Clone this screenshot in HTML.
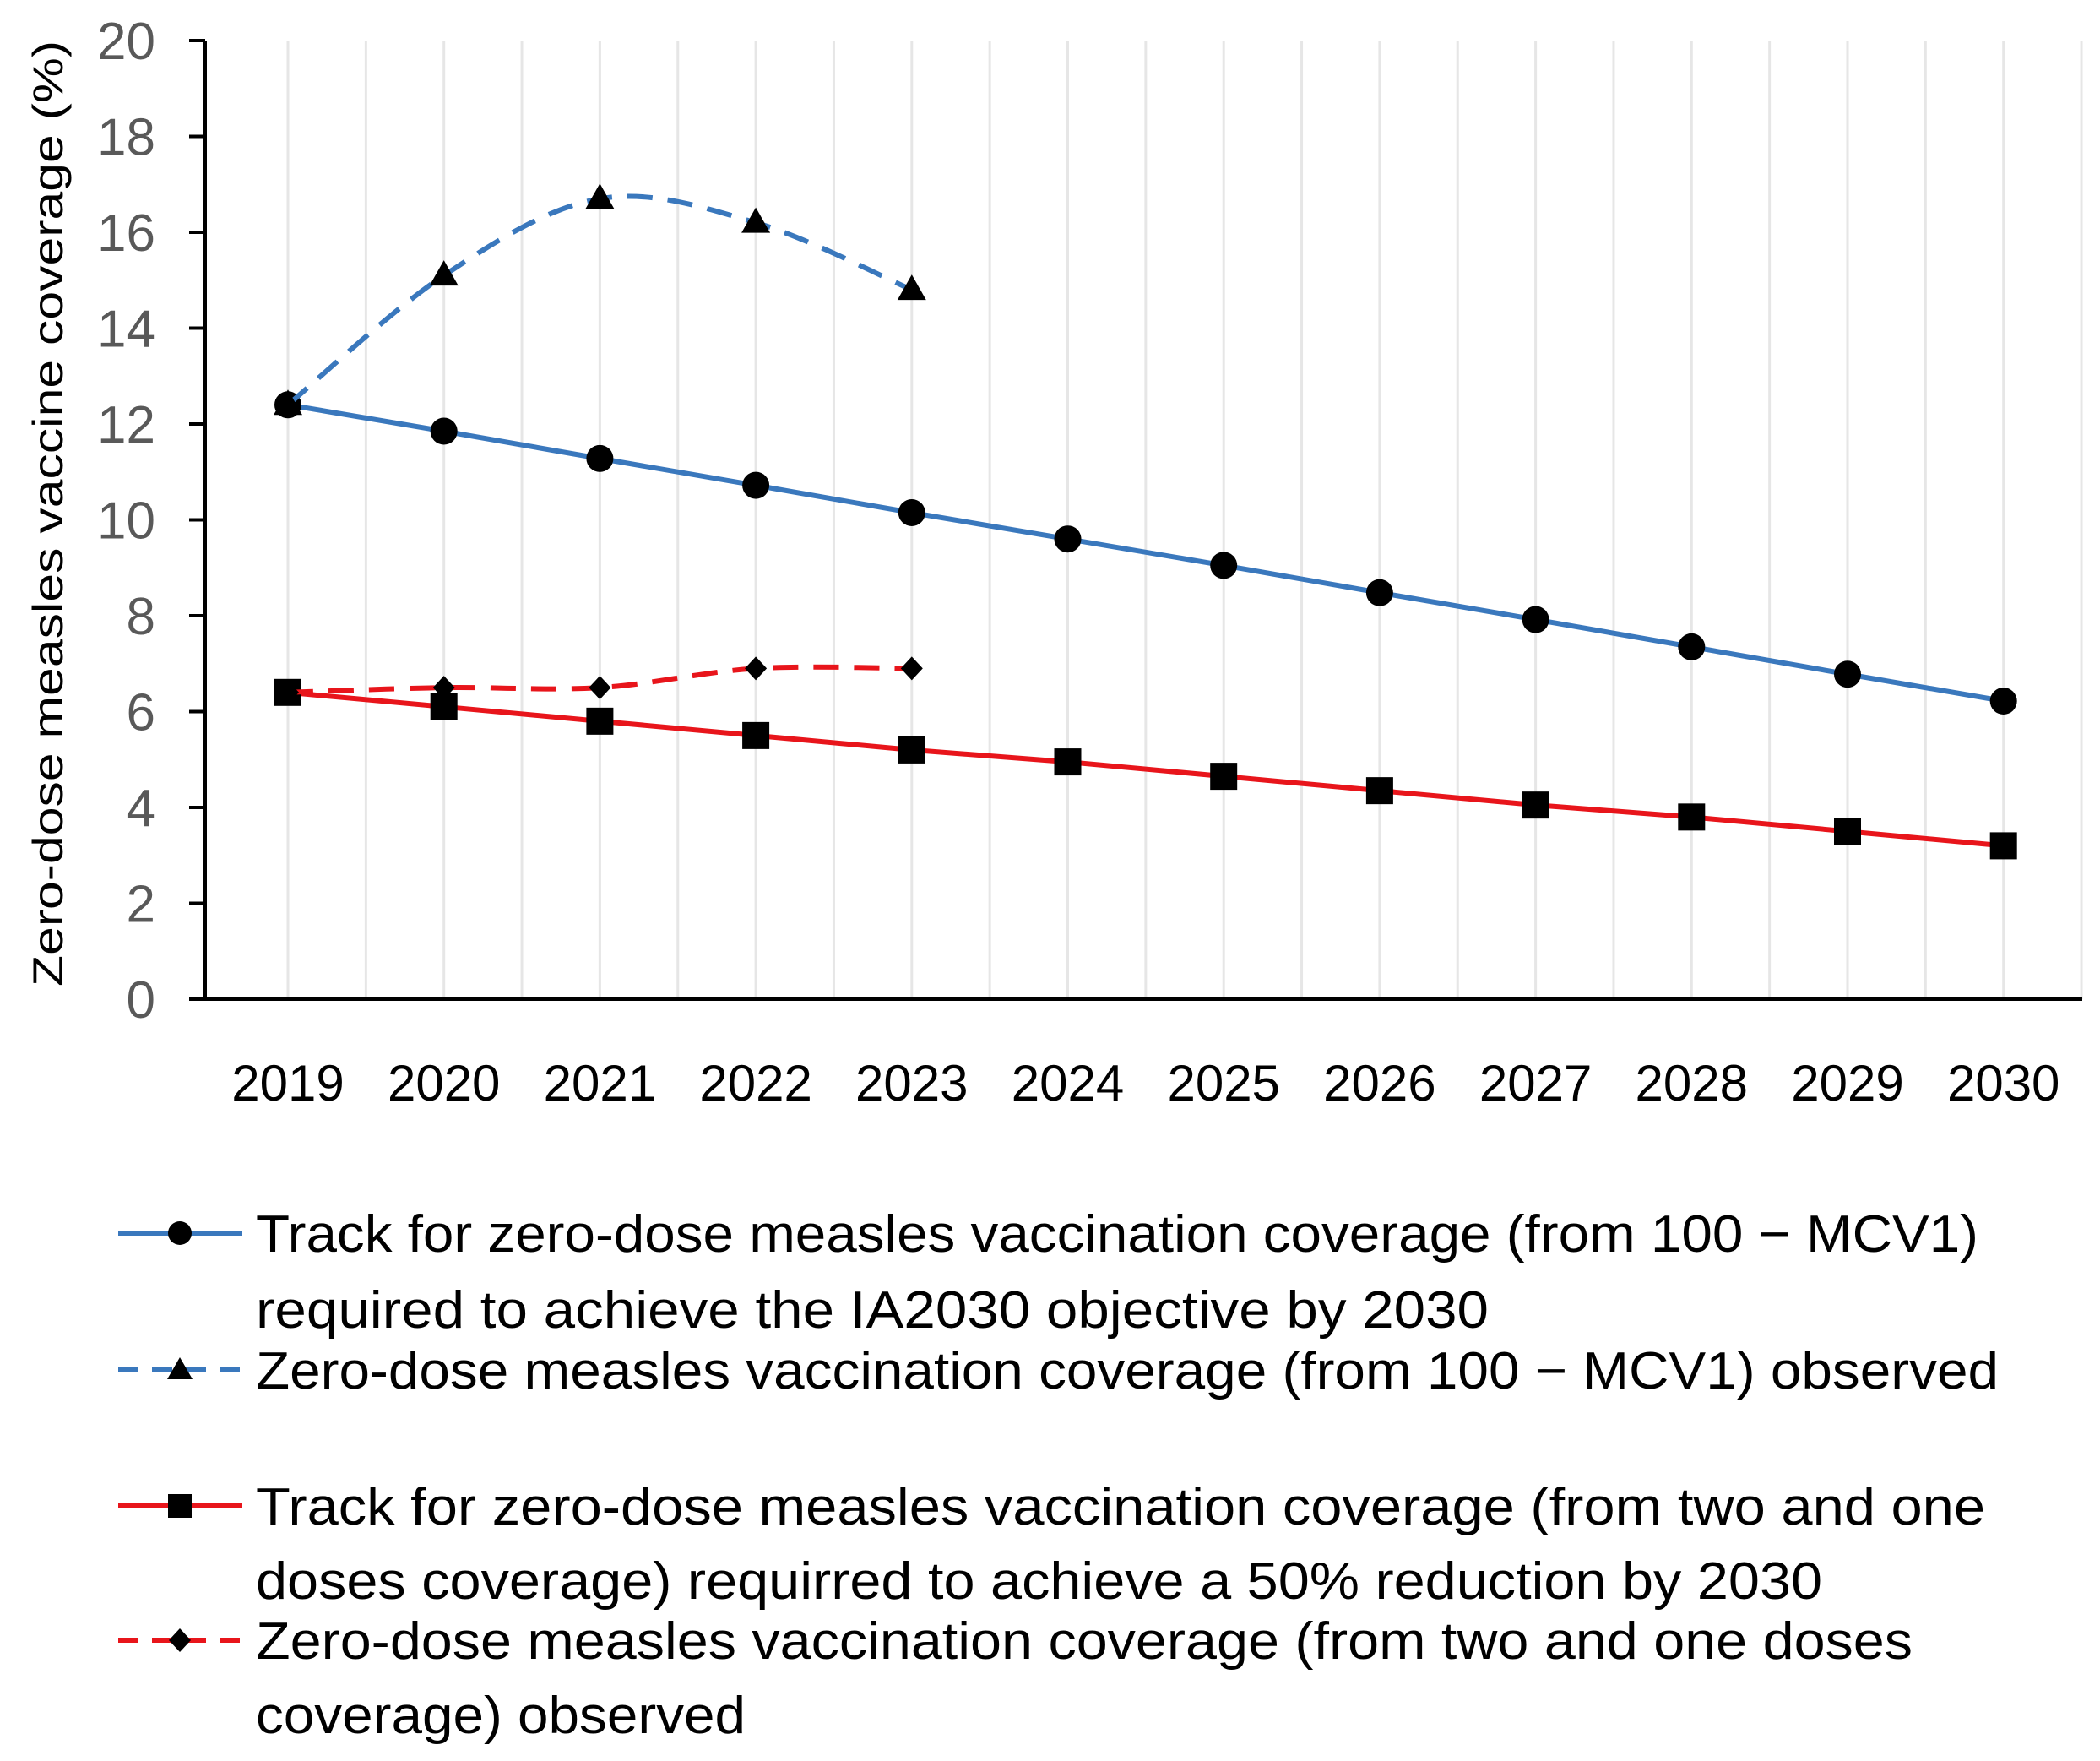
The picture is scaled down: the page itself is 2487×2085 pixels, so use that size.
<!DOCTYPE html>
<html><head><meta charset="utf-8"><style>
html,body{margin:0;padding:0;background:#fff;}
svg{display:block;font-family:"Liberation Sans",sans-serif;}
</style></head><body>
<svg id="chart" width="2487" height="2085" viewBox="0 0 2487 2085">
<g id="grid"></g>
<g id="axes"></g>
<g id="series"></g>
<text transform="translate(74,608) rotate(-90)" text-anchor="middle" font-size="50" fill="#000" textLength="1120" lengthAdjust="spacingAndGlyphs">Zero-dose measles vaccine coverage (%)</text>
<g font-size="62" fill="#000" transform="translate(0,-8)">
  <g>
    <line x1="140" y1="1468" x2="287" y2="1468" stroke="#3a78bd" stroke-width="6"/>
    <circle cx="213" cy="1468" r="14" fill="#000"/>
    <text x="303" y="1490" textLength="2040" lengthAdjust="spacingAndGlyphs">Track for zero-dose measles vaccination coverage (from 100 − MCV1)</text>
    <text x="303" y="1580" textLength="1460" lengthAdjust="spacingAndGlyphs">required to achieve the IA2030 objective by 2030</text>
  </g>
  <g>
    <line x1="140" y1="1630" x2="287" y2="1630" stroke="#3a78bd" stroke-width="6" stroke-dasharray="24,16"/>
    <polygon points="213,1615 228,1641 198,1641" fill="#000"/>
    <text x="303" y="1652" textLength="2064" lengthAdjust="spacingAndGlyphs">Zero-dose measles vaccination coverage (from 100 − MCV1) observed</text>
  </g>
  <g>
    <line x1="140" y1="1791" x2="287" y2="1791" stroke="#e8151b" stroke-width="6"/>
    <rect x="199" y="1777" width="28" height="28" fill="#000"/>
    <text x="303" y="1813" textLength="2048" lengthAdjust="spacingAndGlyphs">Track for zero-dose measles vaccination coverage (from two and one</text>
    <text x="303" y="1901" textLength="1855" lengthAdjust="spacingAndGlyphs">doses coverage) requirred to achieve a 50% reduction by 2030</text>
  </g>
  <g>
    <line x1="140" y1="1950" x2="287" y2="1950" stroke="#e8151b" stroke-width="6" stroke-dasharray="24,16"/>
    <polygon points="213,1936 226,1950 213,1964 200,1950" fill="#000"/>
    <text x="303" y="1972" textLength="1962" lengthAdjust="spacingAndGlyphs">Zero-dose measles vaccination coverage (from two and one doses</text>
    <text x="303" y="2060" textLength="580" lengthAdjust="spacingAndGlyphs">coverage) observed</text>
  </g>
</g>
</svg>
<script>
const years = ["2019","2020","2021","2022","2023","2024","2025","2026","2027","2028","2029","2030"];
const yTicks = [0,2,4,6,8,10,12,14,16,18,20];
const blueTrack = [12.4,11.85,11.28,10.72,10.15,9.6,9.05,8.48,7.92,7.35,6.78,6.22];
const blueObserved = [12.4,15.1,16.7,16.2,14.8];
const redTrack = [6.4,6.1,5.8,5.5,5.2,4.95,4.65,4.35,4.05,3.8,3.5,3.2];
const redObserved = [6.4,6.5,6.5,6.9,6.9];

const NS="http://www.w3.org/2000/svg";
const X0=341, DX=184.7, Y0=1183, Y20=48;
const xs=i=>X0+i*DX;
const ys=v=>Y0-(v/20)*(Y0-Y20);
function mk(tag,attrs,parent){const e=document.createElementNS(NS,tag);for(const k in attrs)e.setAttribute(k,attrs[k]);parent.appendChild(e);return e;}
const grid=document.getElementById('grid'), axes=document.getElementById('axes'), series=document.getElementById('series');
for(let i=0;i<years.length*2;i++){
  const x=X0+i*DX/2;
  if(x>2470) break;
  const l=mk('line',{x1:x,y1:Y20,x2:x,y2:Y0,stroke:'#e6e6e6','stroke-width':3},grid);
  
  
}
const ya=mk('line',{x1:243,y1:Y20,x2:243,y2:Y0+2,stroke:'#000','stroke-width':4},axes);


const xa=mk('line',{x1:224,y1:Y0,x2:2466,y2:Y0,stroke:'#000','stroke-width':4},axes);


yTicks.forEach(v=>{
  const t=mk('line',{x1:224,y1:ys(v),x2:243,y2:ys(v),stroke:'#000','stroke-width':4},axes);
  
  
  const tx=mk('text',{x:184,y:ys(v)+22,'text-anchor':'end','font-size':62,fill:'#595959'},axes);
  tx.textContent=v;
  
  
});
years.forEach((y,i)=>{
  const tx=mk('text',{x:xs(i),y:1303,'text-anchor':'middle','font-size':60,fill:'#000'},axes);
  tx.textContent=y;
  
  
});
function smoothPath(pts){
  let d=`M${pts[0][0]},${pts[0][1]}`;
  for(let i=0;i<pts.length-1;i++){
    const p0=pts[i-1]||pts[i],p1=pts[i],p2=pts[i+1],p3=pts[i+2]||p2;
    const c1=[p1[0]+(p2[0]-p0[0])/6,p1[1]+(p2[1]-p0[1])/6];
    const c2=[p2[0]-(p3[0]-p1[0])/6,p2[1]-(p3[1]-p1[1])/6];
    d+=` C${c1[0]},${c1[1]} ${c2[0]},${c2[1]} ${p2[0]},${p2[1]}`;
  }
  return d;
}
function drawSeries(vals,color,dash,smooth,marker,name){
  const pts=vals.map((v,i)=>[xs(i),ys(v)]);
  const d=smooth?smoothPath(pts):'M'+pts.map(p=>p.join(',')).join(' L');
  const p=mk('path',{d:d,fill:'none',stroke:color,'stroke-width':6,'stroke-dasharray':dash||'none'},series);
  
  
  pts.forEach(([x,y])=>{
    let m;
    if(marker==='circle') m=mk('circle',{cx:x,cy:y,r:16,fill:'#000'},series);
    else if(marker==='square') m=mk('rect',{x:x-16,y:y-16,width:32,height:32,fill:'#000'},series);
    else if(marker==='triangle') m=mk('polygon',{points:`${x},${y-18} ${x+17},${y+12} ${x-17},${y+12}`,fill:'#000'},series);
    else m=mk('polygon',{points:`${x},${y-14} ${x+13},${y} ${x},${y+14} ${x-13},${y}`,fill:'#000'},series);
    
    
  });
}
drawSeries(blueTrack,'#3a78bd',null,false,'circle','blue-track');
drawSeries(redTrack,'#e8151b',null,false,'square','red-track');
drawSeries(blueObserved,'#3a78bd','30,18',true,'triangle','blue-observed');
drawSeries(redObserved,'#e8151b','30,18',true,'diamond','red-observed');
</script>
</body></html>
